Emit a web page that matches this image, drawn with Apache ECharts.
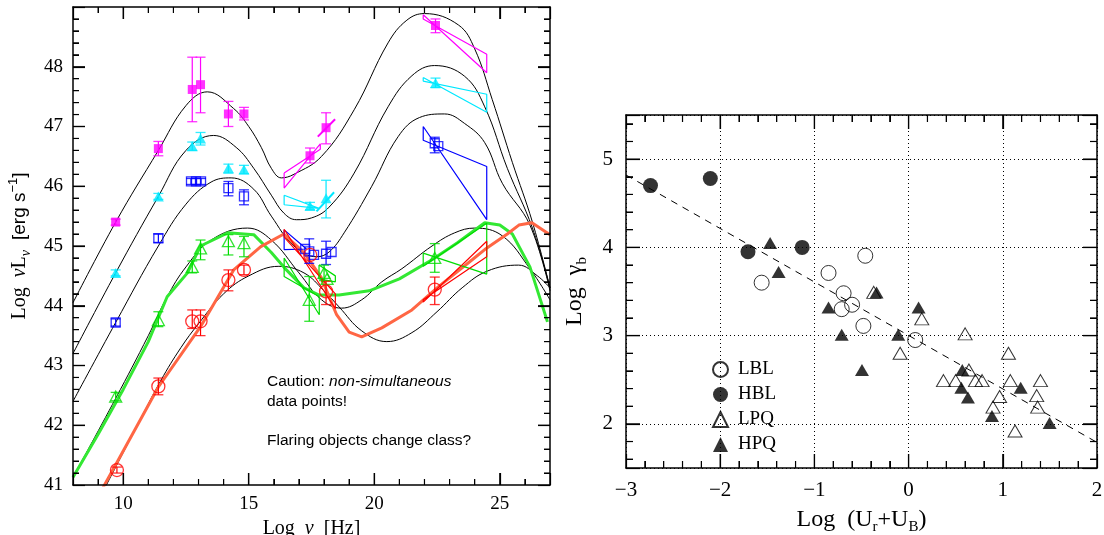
<!DOCTYPE html>
<html><head><meta charset="utf-8">
<script src="https://cdn.jsdelivr.net/npm/echarts@6/dist/echarts.min.js"></script>
<style>html,body{margin:0;padding:0;background:#fff}#c{width:1104px;height:535px}</style>
</head><body><div id="c"></div>
<script>
// ---------- left panel: spectral energy distributions ----------
// phenomenological model curves, one per luminosity bin: [log nu, log nuL_nu]
const modelCurve1 = [[8,44.05],[9.7,45.4],[11.4,46.6],[12.5,47.35],[13.35,47.58],[14.4,47.3],[15.0,47.0],[15.5,46.65],[15.9,46.3],[16.3,46.14],[16.8,46.2],[17.9,46.5],[19.2,47.28],[20.55,48.4],[21.3,48.78],[22.0,48.89],[23.35,48.7],[24.0,48.3],[24.7,47.45],[25.5,46.4],[26.3,45.4],[27,44.3]];
const modelCurve2 = [[8,43.2],[9.7,44.55],[11.4,45.83],[12.5,46.6],[13.6,46.85],[14.5,46.65],[15.2,46.3],[15.9,45.85],[16.4,45.55],[16.9,45.44],[17.5,45.47],[18.2,45.65],[19.2,46.22],[20.55,47.33],[21.5,47.85],[22.4,48.02],[23.6,47.84],[24.4,47.33],[25.3,46.3],[26.3,45.3],[27,44.3]];
const modelCurve3 = [[8,42.4],[9.7,43.72],[11.4,45.0],[12.5,45.7],[13.5,46.07],[14.3,46.14],[15.2,45.95],[15.9,45.5],[16.8,45.0],[17.7,44.82],[18.2,44.9],[18.8,45.22],[19.9,46.0],[20.95,46.83],[21.8,47.15],[22.8,47.21],[23.6,47.05],[24.4,46.73],[25.1,46.05],[26.2,45.35],[27,44.25]];
const modelCurve4 = [[8,41.13],[9.7,42.45],[11.0,43.5],[11.75,44.15],[12.5,44.65],[13.5,45.1],[14.95,45.3],[15.9,45.1],[17.0,44.55],[17.9,44.1],[18.7,43.96],[19.5,44.1],[20.3,44.4],[21.1,44.62],[22.3,45.0],[23.2,45.22],[24.0,45.3],[25.1,45.17],[26.2,44.62],[27,44.1]];
const modelCurve5 = [[8.9,40.65],[9.7,41.3],[10.5,41.95],[11.5,42.75],[12.3,43.3],[13.0,43.7],[14.0,44.2],[15.0,44.5],[16.2,44.66],[17.2,44.55],[18.0,44.25],[18.6,43.98],[19.5,43.58],[20.5,43.4],[21.5,43.55],[22.5,43.9],[23.5,44.3],[24.5,44.58],[25.75,44.68],[26.5,44.5],[27,44.3]];

// thick SEDs of the flaring sources
const greenSed = [[8,41.13],[9,41.85],[10,42.6],[11,43.4],[11.75,44.15],[12.56,44.55],[13.08,45.0],[14.16,45.22],[15.2,45.19],[15.9,44.89],[16.5,44.6],[17.2,44.3],[17.8,44.18],[18.6,44.18],[19.8,44.25],[21.0,44.45],[22.3,44.77],[23.3,45.05],[24.4,45.39],[25.0,45.35],[25.5,45.2],[26.2,44.65],[26.9,43.73]];
const redSed = [[9.2,40.96],[9.7,41.34],[11.4,42.64],[13.08,43.65],[14.4,44.6],[15.48,44.99],[16.4,45.2],[17.2,44.89],[17.88,44.48],[18.5,43.85],[19.0,43.56],[19.5,43.48],[20.3,43.63],[21.5,43.93],[22.56,44.32],[23.9,44.77],[24.4,44.94],[25.3,45.2],[25.76,45.35],[26.28,45.39],[27,45.19]];

// measured points: [log nu, log nuL, lower, upper]
const magentaPts = [[9.7,45.4,45.35,45.45],[11.4,46.63,46.51,46.75],[12.75,47.62,47.08,48.16],[13.08,47.7,47.23,48.16],[14.19,47.21,47.0,47.42],[14.81,47.21,47.11,47.32],[17.44,46.51,46.39,46.64],[18.08,46.98,46.71,47.23],[22.44,48.69,48.57,48.8]];
const cyanPts = [[9.7,44.55,44.5,44.6],[11.4,45.83,45.78,45.88],[12.75,46.67,46.6,46.74],[13.08,46.8,46.69,46.9],[14.19,46.3,46.22,46.37],[14.81,46.28,46.21,46.35],[17.44,45.67,45.61,45.73],[18.08,45.8,45.47,46.1],[22.44,47.73,47.65,47.81]];
const bluePts = [[9.7,43.72,43.66,43.78],[11.4,45.13,45.06,45.2],[12.7,46.08,46.03,46.13],[12.9,46.08,46.03,46.13],[13.1,46.08,46.03,46.13],[14.19,45.97,45.84,46.08],[14.81,45.83,45.69,45.94],[17.25,44.95,44.95,44.95],[17.41,44.91,44.71,45.12],[17.6,44.85,44.85,44.85],[18.08,44.87,44.69,45.08],[18.3,44.9,44.9,44.9],[22.41,46.72,46.56,46.82],[22.55,46.67,46.67,46.67]];
const greenPts = [[9.7,42.48,42.41,42.55],[11.4,43.76,43.65,43.9],[12.75,44.65,44.55,44.75],[13.08,44.96,44.77,45.1],[14.19,45.08,44.85,45.19],[14.81,45.05,44.82,45.16],[17.41,44.1,43.74,44.49],[18.0,44.55,44.42,44.68],[18.12,44.45,44.45,44.45],[22.41,44.8,44.56,45.04]];
const redPts = [[9.75,41.25,41.2,41.3],[11.4,42.65,42.51,42.79],[12.75,43.74,43.62,43.93],[13.08,43.74,43.5,43.93],[14.19,44.43,44.25,44.6],[14.81,44.6,44.52,44.68],[17.45,44.85,44.85,44.85],[18.08,44.24,44.02,44.41],[22.41,44.27,44.02,44.48]];

// X-ray and gamma-ray spectral bow ties
const magentaXray = [[16.41,46.22],[17.85,46.62],[17.85,46.71],[16.41,45.97]];
const magentaSlope = [[17.75,46.83],[18.44,47.12]];
const magentaGamma = [[21.95,48.87],[24.48,47.9],[24.48,48.21],[21.95,48.8]];
const cyanXray = [[16.41,45.85],[17.8,45.63],[17.8,45.66],[16.41,45.69]];
const cyanSlope = [[17.7,45.58],[18.4,45.9]];
const cyanGamma = [[21.95,47.82],[24.48,47.24],[24.48,47.54],[21.95,47.76]];
const blueXray = [[16.41,45.27],[17.3,44.95],[17.3,44.92],[16.41,44.94]];
const blueGamma = [[21.95,47.0],[24.48,45.44],[24.48,46.33],[21.95,46.77]];
const greenXray = [[16.41,44.8],[17.81,43.85],[17.81,44.15],[16.41,44.49]];
const greenXray2 = [[17.8,44.68],[18.45,44.5],[18.45,44.4],[17.8,44.45]];
const greenGamma = [[21.95,44.88],[24.48,44.53],[24.48,45.38],[21.95,44.66]];
const redXray = [[16.41,45.28],[18.45,43.95],[18.45,44.2],[16.41,45.15]];
const redGamma = [[21.95,44.06],[24.48,45.08],[24.48,44.82],[21.95,44.1]];

// ---------- right panel: break Lorentz factor vs energy density ----------
const lblPts = [[-1.56,3.60],[-0.85,3.71],[-0.46,3.905],[-0.69,3.48],[-0.60,3.35],[-0.71,3.30],[-0.48,3.11],[0.07,2.95]];
const hblPts = [[-2.74,4.70],[-2.105,4.78],[-1.705,3.95],[-1.13,4.0]];
const lpqPts = [[-0.37,3.49],[0.14,3.19],[-0.09,2.80],[0.60,3.02],[1.06,2.80],[0.37,2.49],[0.50,2.49],[0.64,2.61],[0.71,2.49],[0.78,2.49],[1.08,2.49],[1.40,2.49],[0.966,2.31],[0.896,2.19],[1.36,2.32],[1.37,2.19],[1.13,1.92]];
const hpqPts = [[-1.47,4.05],[-1.38,3.72],[-0.85,3.32],[-0.34,3.49],[0.106,3.32],[-0.71,3.01],[-0.11,3.01],[-0.495,2.61],[0.57,2.61],[0.56,2.41],[0.63,2.30],[0.885,2.09],[1.19,2.41],[1.497,2.01]];
const fitLine = [[-3,4.82],[2,1.79]];
const classNames = ['LBL','HBL','LPQ','HPQ'];

// ---------- frame tick values ----------
function steps(a, b, step) {
  const out = [];
  for (let i = 0; a + i * step <= b + 1e-9; i++) out.push(Math.round((a + i * step) * 100) / 100);
  return out;
}
const isWhole = v => Math.abs(v - Math.round(v)) < 1e-6;
const sedTicksX = [10, 15, 20, 25];
const sedMinorX = steps(9, 26, 1).filter(v => v % 5 !== 0);
const sedTicksY = steps(42, 48, 1);
const sedMinorY = steps(41.2, 48.8, 0.2).filter(v => !isWhole(v));
const gbTicksX = [-2, -1, 0, 1];
const gbMinorX = steps(-2.8, 1.8, 0.2).filter(v => !isWhole(v));
const gbTicksY = [2, 3, 4, 5];
const gbMinorY = steps(1.6, 5.4, 0.2).filter(v => !isWhole(v));

const SERIF = 'Liberation Serif';
const SANS = 'Liberation Sans';

function frameAxis(major, minor, extra) {
  return Object.assign({
    type: 'value', scale: true, z: 20,
    axisLine: {show: true, onZero: false, lineStyle: {color: '#000', width: 1.5}},
    axisTick: {show: true, inside: true, length: major, lineStyle: {color: '#000', width: 1.2}},
    minorTick: {show: true, splitNumber: 5, length: minor, lineStyle: {color: '#000', width: 1}},
    splitLine: {show: false},
    axisLabel: {show: false}
  }, extra);
}

// inward-pointing ticks on all four sides of a plot frame, placed through the axis scales
function frameTicks(xi, yi, xs, ys, len, xRef, yRef) {
  const data = xs.map(v => [v, yRef, 0, len]).concat(ys.map(v => [xRef, v, 1, len]));
  return {
    type: 'custom', xAxisIndex: xi, yAxisIndex: yi, z: 15, silent: true, clip: false,
    data: data, encode: {x: 0, y: 1},
    renderItem: function (params, api) {
      const cs = params.coordSys;
      const p = api.coord([api.value(0), api.value(1)]);
      const L = api.value(3);
      const st = {stroke: '#000', lineWidth: 1.2, fill: null};
      if (api.value(2) === 0) {
        const x = p[0];
        return {type: 'group', children: [
          {type: 'line', shape: {x1: x, y1: cs.y + cs.height, x2: x, y2: cs.y + cs.height - L}, style: st},
          {type: 'line', shape: {x1: x, y1: cs.y, x2: x, y2: cs.y + L}, style: st}
        ]};
      }
      const y = p[1];
      return {type: 'group', children: [
        {type: 'line', shape: {x1: cs.x, y1: y, x2: cs.x + L, y2: y}, style: st},
        {type: 'line', shape: {x1: cs.x + cs.width, y1: y, x2: cs.x + cs.width - L, y2: y}, style: st}
      ]};
    }
  };
}

function modelLine(pts) {
  return {type: 'line', xAxisIndex: 0, yAxisIndex: 0, data: pts, symbol: 'none', smooth: 0.4,
    lineStyle: {color: '#000', width: 1}, z: 1, silent: true};
}
function sedLine(pts, color) {
  return {type: 'line', xAxisIndex: 0, yAxisIndex: 0, data: pts, symbol: 'none',
    lineStyle: {color: color, width: 3}, z: 2, silent: true};
}
function outline(pts, color, closed, w) {
  return {type: 'line', xAxisIndex: 0, yAxisIndex: 0, data: closed ? pts.concat([pts[0]]) : pts, symbol: 'none',
    lineStyle: {color: color, width: w || 1.2}, z: 3, silent: true};
}
// vertical error bar stems: one broken polyline through [x,lower]-[x,upper] pairs
function errorStems(pts, color) {
  const data = [];
  pts.filter(p => p[3] > p[2]).forEach(p => { data.push([p[0], p[2]], [p[0], p[3]], null); });
  return {type: 'line', xAxisIndex: 0, yAxisIndex: 0, data: data, symbol: 'none', connectNulls: false,
    lineStyle: {color: color, width: 1.2}, z: 4, silent: true};
}
// horizontal caps at both ends of each error bar
function errorCaps(pts, color) {
  const data = [];
  pts.filter(p => p[3] > p[2]).forEach(p => { data.push([p[0], p[2]], [p[0], p[3]]); });
  return {type: 'scatter', xAxisIndex: 0, yAxisIndex: 0, data: data, symbol: 'rect', symbolSize: [10, 1.3],
    itemStyle: {color: color}, z: 4, silent: true};
}
function markers(pts, symbol, size, color, filled) {
  return {type: 'scatter', xAxisIndex: 0, yAxisIndex: 0, data: pts.map(p => [p[0], p[1]]),
    symbol: symbol, symbolSize: size, z: 5, silent: true,
    itemStyle: filled ? {color: color} : {color: 'rgba(0,0,0,0)', borderColor: color, borderWidth: 1.3}};
}
function classSeries(name, pts, symbol, size, filled) {
  return {type: 'scatter', name: name, xAxisIndex: 2, yAxisIndex: 2, data: pts,
    symbol: symbol, symbolSize: size, z: 5, silent: true,
    itemStyle: filled ? {color: '#000'} : {color: 'rgba(0,0,0,0)', borderColor: '#000', borderWidth: 1}};
}

const subStyle = (ff, fs, extra) => Object.assign({fontFamily: ff, fontSize: fs, color: '#000'}, extra || {});

const colours = {magenta: '#ff00ff', cyan: '#00e8ff', blue: '#0000ff', green: '#00dd00', red: '#ff0000'};
const pointSets = [[magentaPts, colours.magenta], [cyanPts, colours.cyan], [bluePts, colours.blue], [greenPts, colours.green], [redPts, colours.red]];

const chart = echarts.init(document.getElementById('c'), null, {renderer: 'canvas'});
chart.setOption({
  animation: false,
  backgroundColor: '#fff',
  grid: [
    {left: 73, top: 7, width: 477, height: 478, containLabel: false, outerBoundsMode: 'none'},
    {left: 626, top: 115, width: 471, height: 353, containLabel: false, outerBoundsMode: 'none'}
  ],
  legend: {
    data: classNames, orient: 'vertical', left: 707, top: 355,
    itemWidth: 15, itemHeight: 15, itemGap: 6, selectedMode: false,
    textStyle: {fontFamily: SERIF, fontSize: 19, color: '#000', padding: [0, 0, 0, 5]}
  },
  xAxis: [
    frameAxis(12, 6, {gridIndex: 0, position: 'bottom', min: 8, max: 27, splitNumber: 4,
      axisLabel: {show: true, margin: 10, fontFamily: SERIF, fontSize: 19, color: '#000',
        formatter: v => (v % 5 === 0 ? String(v) : '')},
      name: '{a|Log  }{i|ν}{a|  [Hz]}', nameLocation: 'middle', nameGap: 30,
      nameTextStyle: {rich: {a: subStyle(SERIF, 20), i: subStyle(SERIF, 20, {fontStyle: 'italic'})}}}),
    frameAxis(12, 6, {gridIndex: 0, position: 'top', min: 8, max: 27, splitNumber: 4}),
    frameAxis(14, 7, {gridIndex: 1, position: 'bottom', min: -3, max: 2, interval: 1,
      axisLabel: {show: true, margin: 12, fontFamily: SERIF, fontSize: 21, color: '#000',
        formatter: v => (v < 0 ? '\u2212' + (-v) : String(v))},
      splitLine: {show: true, lineStyle: {color: '#000', width: 1, type: [1, 3]}},
      name: '{a|Log  (U}{s|r}{a|+U}{s|B}{a|)}', nameLocation: 'middle', nameGap: 37,
      nameTextStyle: {rich: {
        a: subStyle(SERIF, 24, {lineHeight: 30, verticalAlign: 'middle'}),
        s: subStyle(SERIF, 15, {lineHeight: 15, verticalAlign: 'bottom'})}}}),
    frameAxis(14, 7, {gridIndex: 1, position: 'top', min: -3, max: 2, interval: 1})
  ],
  yAxis: [
    frameAxis(12, 6, {gridIndex: 0, position: 'left', min: 41, max: 49, interval: 1,
      axisLabel: {show: true, margin: 10, fontFamily: SERIF, fontSize: 19, color: '#000',
        formatter: v => (v < 49 ? String(v) : '')},
      name: '{a|Log  }{i|ν}{a|L}{s|ν}{a|  }{b|[erg s}{p|\u22121}{b|]}', nameLocation: 'middle', nameGap: 40, nameRotate: 90,
      nameTextStyle: {rich: {
        a: subStyle(SERIF, 20, {lineHeight: 26, verticalAlign: 'middle'}),
        i: subStyle(SERIF, 20, {lineHeight: 26, verticalAlign: 'middle', fontStyle: 'italic'}),
        s: subStyle(SERIF, 14, {lineHeight: 14, verticalAlign: 'bottom', fontStyle: 'italic'}),
        b: subStyle(SANS, 19, {lineHeight: 26, verticalAlign: 'middle'}),
        p: subStyle(SANS, 13, {lineHeight: 13, verticalAlign: 'top'})}}}),
    frameAxis(12, 6, {gridIndex: 0, position: 'right', min: 41, max: 49, interval: 1}),
    frameAxis(14, 7, {gridIndex: 1, position: 'left', min: 1.5, max: 5.5, splitNumber: 4,
      axisLabel: {show: true, margin: 13, fontFamily: SERIF, fontSize: 21, color: '#000',
        formatter: v => (Number.isInteger(v) ? String(v) : '')},
      splitLine: {show: true, lineStyle: {color: '#000', width: 1, type: [1, 3]}},
      name: '{a|Log  γ}{s|b}', nameLocation: 'middle', nameGap: 36, nameRotate: 90,
      nameTextStyle: {rich: {
        a: subStyle(SERIF, 24, {lineHeight: 30, verticalAlign: 'middle'}),
        s: subStyle(SERIF, 15, {lineHeight: 15, verticalAlign: 'bottom'})}}}),
    frameAxis(14, 7, {gridIndex: 1, position: 'right', min: 1.5, max: 5.5, splitNumber: 4})
  ],
  graphic: [{
    type: 'text', left: 267, top: 374, silent: true,
    style: {
      text: '{n|Caution: }{i|non-simultaneous}\n{n|data points!}\n{n| }\n{n|Flaring objects change class?}',
      rich: {
        n: {fontFamily: SANS, fontSize: 15.5, lineHeight: 19.5, fill: '#000'},
        i: {fontFamily: SANS, fontSize: 15.5, lineHeight: 19.5, fontStyle: 'italic', fill: '#000'}
      }
    }
  }],
  series: [
    frameTicks(0, 0, sedTicksX, sedTicksY, 12, 8, 41),
    frameTicks(0, 0, sedMinorX, sedMinorY, 6, 8, 41),
    frameTicks(2, 2, gbTicksX, gbTicksY, 14, -3, 1.5),
    frameTicks(2, 2, gbMinorX, gbMinorY, 7, -3, 1.5),
    modelLine(modelCurve1), modelLine(modelCurve2), modelLine(modelCurve3), modelLine(modelCurve4), modelLine(modelCurve5),
    sedLine(greenSed, '#33e833'), sedLine(redSed, '#ff6644'),
    outline(magentaXray, colours.magenta, true), outline(magentaSlope, colours.magenta, false, 2), outline(magentaGamma, colours.magenta, true),
    outline(cyanXray, colours.cyan, true), outline(cyanSlope, colours.cyan, false, 2), outline(cyanGamma, colours.cyan, true),
    outline(blueXray, colours.blue, true), outline(blueGamma, colours.blue, true),
    outline(greenXray, colours.green, true), outline(greenXray2, colours.green, true), outline(greenGamma, colours.green, true),
    outline(redXray, colours.red, true), outline(redGamma, colours.red, true)
  ].concat(
    pointSets.map(s => errorStems(s[0], s[1])),
    pointSets.map(s => errorCaps(s[0], s[1])),
    [
      markers(magentaPts, 'rect', 9, colours.magenta, true),
      markers(cyanPts, 'triangle', [11, 10], colours.cyan, true),
      markers(bluePts, 'rect', 9, colours.blue, false),
      markers(greenPts, 'triangle', [12, 11], colours.green, false),
      markers(redPts, 'circle', 13, colours.red, false),
      {type: 'line', xAxisIndex: 2, yAxisIndex: 2, data: fitLine, symbol: 'none', silent: true, z: 2,
        lineStyle: {color: '#000', width: 1, type: [7, 6]}},
      classSeries('LBL', lblPts, 'circle', 15, false),
      classSeries('HBL', hblPts, 'circle', 15, true),
      classSeries('LPQ', lpqPts, 'triangle', [14, 12], false),
      classSeries('HPQ', hpqPts, 'triangle', [14, 12], true)
    ]
  )
});
</script></body></html>
